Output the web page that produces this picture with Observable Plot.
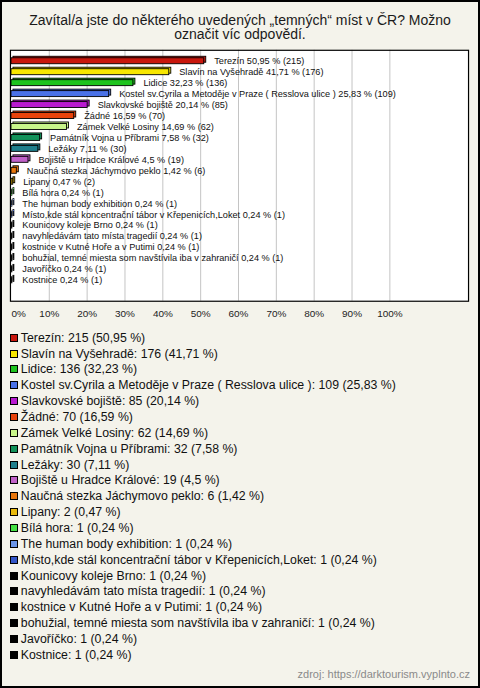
<!DOCTYPE html>
<html>
<head>
<meta charset="utf-8">
<script src="https://cdn.jsdelivr.net/npm/d3@7"></script>
<script src="https://cdn.jsdelivr.net/npm/@observablehq/plot@0.6"></script>
<style>
  html, body { margin: 0; padding: 0; background: #fff; }
  #wrap {
    position: relative; width: 480px; height: 688px; box-sizing: border-box;
    border: 2px solid #000; background: #f4f3eb; overflow: hidden;
    font-family: "Liberation Sans", Arial, sans-serif;
  }
  #title {
    position: absolute; left: 0; width: 476px; top: 10.5px; text-align: center;
    font-size: 14px; line-height: 14.5px; color: #1a1a1a;
  }
  #chart { position: absolute; left: -2px; top: -2px; }
  #legend { position: absolute; left: 7px; top: 327.8px; }
  .row { display: flex; align-items: center; height: 15.87px; font-size: 12.3px; color: #111; white-space: nowrap; }
  .sw { width: 6px; height: 6px; border: 1px solid #000; margin: 0 3.3px 0 0.5px; flex: none; }
  #caption { position: absolute; right: 8px; top: 666px; font-size: 11px; color: #8a8a8a; }
</style>
</head>
<body>
<div id="wrap">
  <div id="title">Zavítal/a jste do některého uvedených „temných“ míst v ČR? Možno<br>označit víc odpovědí.</div>
  <div id="chart"></div>
  <div id="legend"></div>
  <div id="caption">zdroj: https://darktourism.vyplnto.cz</div>
</div>
<script>
const names = [
  "Terezín",
  "Slavín na Vyšehradě",
  "Lidice",
  "Kostel sv.Cyrila a Metoděje v Praze ( Resslova ulice )",
  "Slavkovské bojiště",
  "Žádné",
  "Zámek Velké Losiny",
  "Památník Vojna u Příbrami",
  "Ležáky",
  "Bojiště u Hradce Králové",
  "Naučná stezka Jáchymovo peklo",
  "Lipany",
  "Bílá hora",
  "The human body exhibition",
  "Místo,kde stál koncentrační tábor v Křepenicích,Loket",
  "Kounicovy koleje Brno",
  "navyhledávám tato místa tragedií",
  "kostnice v Kutné Hoře a v Putimi",
  "bohužial, temné miesta som navštívila iba v zahraničí",
  "Javoříčko",
  "Kostnice"
];
const counts = [215, 176, 136, 109, 85, 70, 62, 32, 30, 19, 6, 2, 1, 1, 1, 1, 1, 1, 1, 1, 1];
const percents = [50.95, 41.71, 32.23, 25.83, 20.14, 16.59, 14.69, 7.58, 7.11, 4.5, 1.42, 0.47, 0.24, 0.24, 0.24, 0.24, 0.24, 0.24, 0.24, 0.24, 0.24];
const colors = [
  "#c8170d", "#f7e600", "#1ec31e", "#4a72e8", "#b81ad0", "#e8430c", "#c8f58a",
  "#12925a", "#1f7f8c", "#c061c8", "#e8760c", "#e8b90c", "#44e044", "#6a95e8",
  "#3356c8", "#000000", "#000000", "#000000", "#000000", "#000000", "#000000"
];
const xTicks = [0, 10, 20, 30, 40, 50, 60, 70, 80, 90, 100];

const fmt = v => String(v).replace(".", ",");
const data = names.map((n, i) => ({ name: n, count: counts[i], pct: percents[i], color: colors[i] }));

const step = 11.475, pad = 0.5;
const y0 = 56.5 - step * (0.5 + pad / 2);
const y1 = y0 + step * (names.length + pad);

const chart = Plot.plot({
  width: 480,
  height: 325,
  marginTop: 50,
  marginBottom: 23,
  marginLeft: 10,
  marginRight: 10,
  style: { background: "transparent", fontFamily: "'Liberation Sans', Arial, sans-serif" },
  x: { domain: [0, 100], range: [11, 391], label: null },
  y: { domain: names, range: [y0, y1], padding: pad, axis: null, label: null },
  color: { type: "identity" },
  marks: [
    Plot.frame({ fill: "white", stroke: "none" }),
    Plot.ruleX(xTicks.slice(1), { stroke: "#c4c4c4", strokeWidth: 1 }),
    Plot.barX(data, { y: "name", x: "pct", fill: "color", stroke: "#000", strokeWidth: 0.9, dx: 2, dy: -1.5 }),
    Plot.barX(data, { y: "name", x: "pct", fill: "color", stroke: "#000", strokeWidth: 0.9 }),
    Plot.text(data, {
      y: "name", x: "pct", dx: 10, textAnchor: "start", fontSize: 9.2, fill: "#111",
      text: d => `${d.name} ${fmt(d.pct)} % (${d.count})`
    }),
    Plot.frame({ stroke: "#000", strokeWidth: 1.2 }),
    Plot.axisX([0], { anchor: "bottom", tickSize: 0, tickPadding: 9, fontSize: 10, textAnchor: "start", tickFormat: d => d + "%", fill: "#222", label: null }),
    Plot.axisX(xTicks.slice(1), { anchor: "bottom", tickSize: 0, tickPadding: 9, fontSize: 10, tickFormat: d => d + "%", fill: "#222", label: null })
  ]
});
document.getElementById("chart").appendChild(chart);

const legend = document.getElementById("legend");
data.forEach(d => {
  const row = document.createElement("div");
  row.className = "row";
  const sw = document.createElement("span");
  sw.className = "sw";
  sw.style.background = d.color;
  const t = document.createElement("span");
  t.textContent = `${d.name}: ${d.count} (${fmt(d.pct)} %)`;
  row.appendChild(sw);
  row.appendChild(t);
  legend.appendChild(row);
});
</script>
</body>
</html>
